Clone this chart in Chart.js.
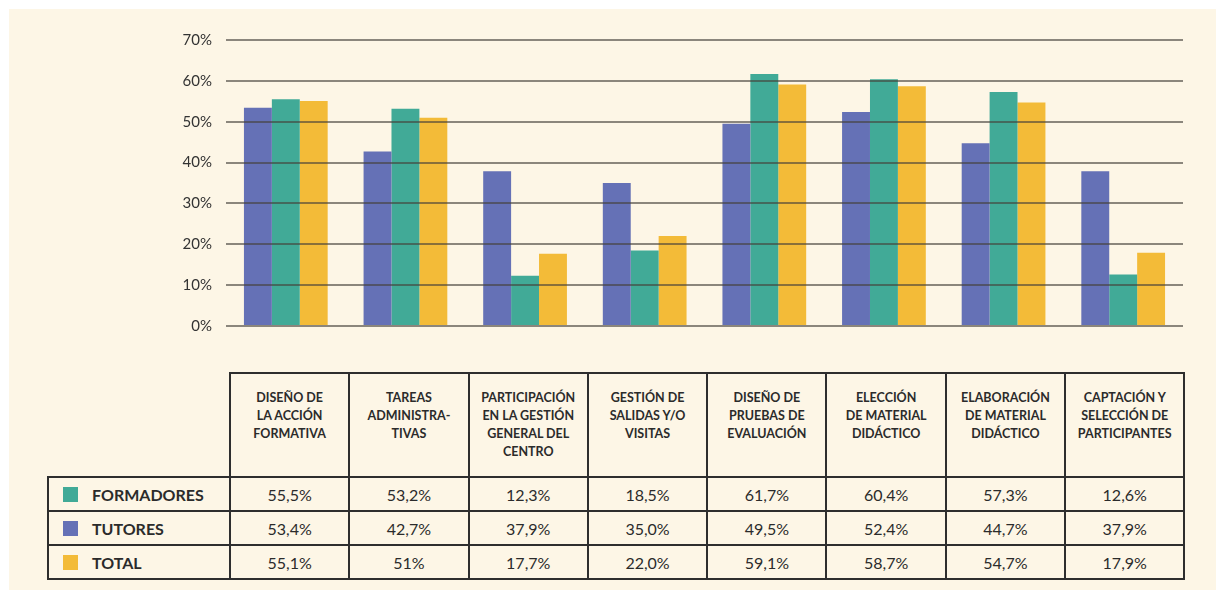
<!DOCTYPE html>
<html>
<head>
<meta charset="utf-8">
<script src="https://cdn.jsdelivr.net/npm/chart.js@4.4.1/dist/chart.umd.min.js"></script>
<style>
  html, body { margin: 0; padding: 0; background: #ffffff; }
  .panel { position: absolute; left: 9px; top: 9px; width: 1207px; height: 581px; background: #fdf6e6; }
  .chart-box { position: absolute; left: 141px; top: 8px; width: 1050px; height: 332px; }
  table.data { position: absolute; left: 38px; top: 363px; border-collapse: collapse; font-family: Lato, "Open Sans", sans-serif; color: #2b2b2b; table-layout: fixed; }
  table.data td { border: 2px solid #2e2e2e; text-align: center; padding: 0; }
  table.data td.blank { border: none; }
  table.data td.head { height: 104px; vertical-align: top; font-weight: 700; font-size: 12.5px; line-height: 18px; padding-top: 15px; box-sizing: border-box; }
  table.data tr.row td { height: 32px; font-size: 16px; }
  table.data td.name { text-align: left; font-weight: 700; font-size: 17px; padding-left: 14px; }
  .sw { display: inline-block; width: 15px; height: 15px; margin-right: 14px; vertical-align: -1px; }
</style>
</head>
<body>
<div class="panel">
  <div class="chart-box"><canvas id="chart"></canvas></div>
  <table class="data" id="table"></table>
</div>
<script>
const categories = [
  ["DISEÑO DE", "LA ACCIÓN", "FORMATIVA"],
  ["TAREAS", "ADMINISTRA-", "TIVAS"],
  ["PARTICIPACIÓN", "EN LA GESTIÓN", "GENERAL DEL", "CENTRO"],
  ["GESTIÓN DE", "SALIDAS Y/O", "VISITAS"],
  ["DISEÑO DE", "PRUEBAS DE", "EVALUACIÓN"],
  ["ELECCIÓN", "DE MATERIAL", "DIDÁCTICO"],
  ["ELABORACIÓN", "DE MATERIAL", "DIDÁCTICO"],
  ["CAPTACIÓN Y", "SELECCIÓN DE", "PARTICIPANTES"]
]
const formadores = [55.5, 53.2, 12.3, 18.5, 61.7, 60.4, 57.3, 12.6]
const tutores = [53.4, 42.7, 37.9, 35.0, 49.5, 52.4, 44.7, 37.9]
const total = [55.1, 51, 17.7, 22.0, 59.1, 58.7, 54.7, 17.9]
// decimals printed in the TOTAL row ("51%" has none)
const totalDecimals = [1, 0, 1, 1, 1, 1, 1, 1]
const yTicks = [0, 10, 20, 30, 40, 50, 60, 70]

const colors = { tutores: "#6571b6", formadores: "#41aa97", total: "#f3bb38" }

// table rows, in the order they are listed under the chart
const rows = [
  { name: "FORMADORES", values: formadores, color: colors.formadores },
  { name: "TUTORES", values: tutores, color: colors.tutores },
  { name: "TOTAL", values: total, color: colors.total, decimals: totalDecimals }
]

const fmt = (v, d = 1) => v.toFixed(d).replace(".", ",") + "%"

// build the table
const table = document.getElementById("table")
const colgroup = document.createElement("colgroup")
colgroup.innerHTML = '<col style="width:182px">' + categories.map(() => '<col style="width:119.3px">').join("")
table.appendChild(colgroup)

const head = document.createElement("tr")
head.innerHTML = '<td class="blank"></td>' + categories.map(c => `<td class="head">${c.join("<br>")}</td>`).join("")
table.appendChild(head)

rows.forEach(r => {
  const tr = document.createElement("tr")
  tr.className = "row"
  tr.innerHTML = `<td class="name"><span class="sw" style="background:${r.color}"></span>${r.name}</td>` +
    r.values.map((v, i) => `<td>${fmt(v, r.decimals ? r.decimals[i] : 1)}</td>`).join("")
  table.appendChild(tr)
})

// bars: tutores, formadores, total
new Chart(document.getElementById("chart"), {
  type: "bar",
  data: {
    labels: categories.map(c => c.join(" ")),
    datasets: [
      { label: "TUTORES", data: tutores, backgroundColor: colors.tutores },
      { label: "FORMADORES", data: formadores, backgroundColor: colors.formadores },
      { label: "TOTAL", data: total, backgroundColor: colors.total }
    ]
  },
  options: {
    responsive: true,
    maintainAspectRatio: false,
    animation: false,
    datasets: { bar: { categoryPercentage: 0.7, barPercentage: 1.0 } },
    layout: { padding: { top: 16, right: 17, bottom: 5, left: 0 } },
    plugins: { legend: { display: false }, tooltip: { enabled: false } },
    scales: {
      x: { display: false },
      y: {
        min: 0,
        max: 70,
        afterBuildTicks: axis => { axis.ticks = yTicks.map(v => ({ value: v })) },
        afterFit: axis => { axis.width = 76 },
        border: { display: false },
        grid: { color: "rgba(70,64,58,0.62)", lineWidth: 2, drawTicks: false, z: 1 },
        ticks: {
          padding: 14,
          color: "#333",
          font: { family: "Lato, sans-serif", size: 15 },
          callback: v => v + "%"
        }
      }
    }
  }
})
</script>
</body>
</html>
